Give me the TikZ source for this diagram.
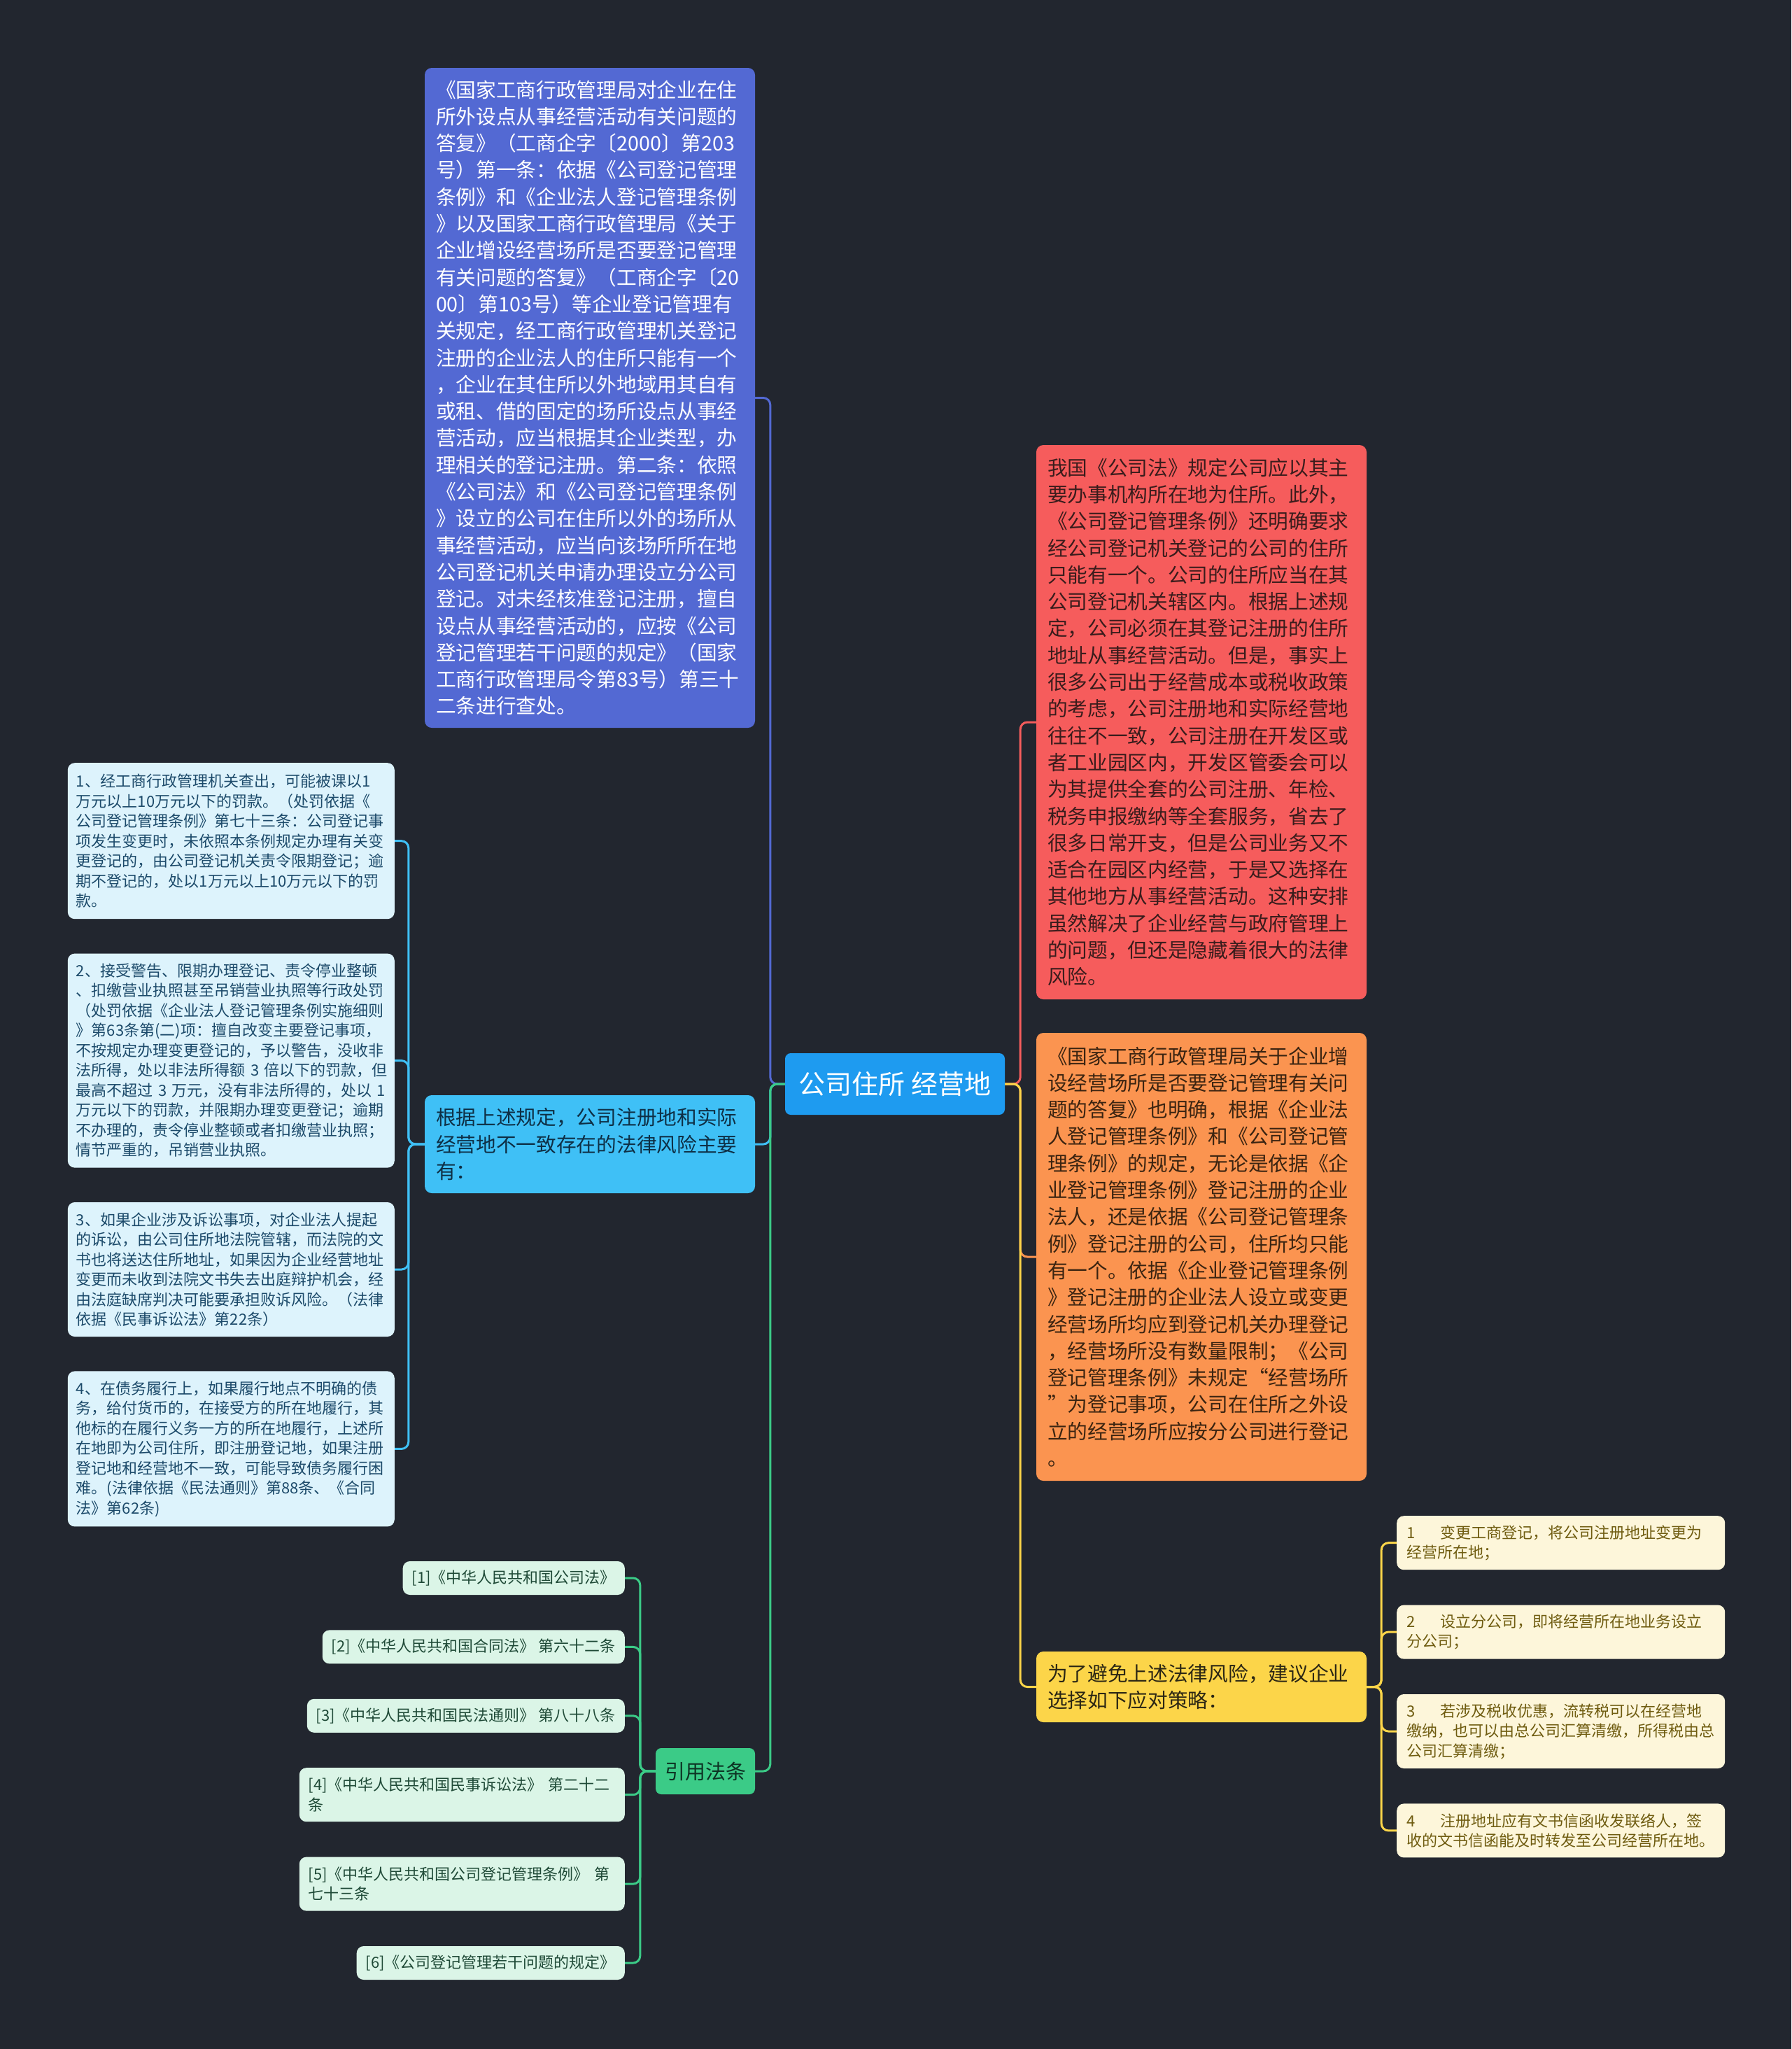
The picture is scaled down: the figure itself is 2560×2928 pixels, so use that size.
\documentclass[tikz,border=0pt]{standalone}
\usepackage{fontspec}
\setmainfont{Noto Sans CJK SC}
\usepackage{xcolor}
\usepackage{tikz}
\usetikzlibrary{positioning}

\definecolor{bgdark}{HTML}{22262F}
\definecolor{hubblue}{HTML}{1E9BF0}
\definecolor{noticeblue}{HTML}{5369D3}
\definecolor{riskcyan}{HTML}{3FC0F6}
\definecolor{riskdark}{HTML}{0E2F45}
\definecolor{citegreen}{HTML}{3BCB87}
\definecolor{citedark}{HTML}{0D3323}
\definecolor{rulered}{HTML}{F65C5C}
\definecolor{ruledark}{HTML}{3A1C1C}
\definecolor{replyorange}{HTML}{FB9450}
\definecolor{replydark}{HTML}{3B2411}
\definecolor{adviceyellow}{HTML}{FCD549}
\definecolor{advicedark}{HTML}{2B2614}
\definecolor{riskfill}{HTML}{DDF3FC}
\definecolor{risktext}{HTML}{1C4A6A}
\definecolor{lawfill}{HTML}{DBF5E7}
\definecolor{lawtext}{HTML}{1F4A37}
\definecolor{tipfill}{HTML}{FDF6DA}
\definecolor{tiptext}{HTML}{6F5C10}

\begin{document}
\begin{tikzpicture}[
  x=1pt, y=-1pt,
  topic/.style={rounded corners=10pt,align=left,text width=440pt,inner xsep=16pt,inner ysep=0pt,font=\fontsize{28.7}{38.3}\selectfont},
  leaf/.style={rounded corners=10pt,align=left,inner xsep=12pt,inner ysep=0pt,font=\fontsize{22}{28.5}\selectfont},
  risk/.style={leaf,fill=riskfill,text=risktext,text width=443pt},
  law/.style={leaf,fill=lawfill,text=lawtext,inner xsep=13pt,minimum height=48pt},
  tip/.style={leaf,fill=tipfill,text=tiptext,inner xsep=14pt,text width=441pt,minimum height=77pt},
  link/.style={line width=3pt,rounded corners=10pt}
]
\fill[bgdark] (0,0) rectangle (2560,2928);
\useasboundingbox (0,0) rectangle (2560,2928);

% centre
\node[rounded corners=8pt,fill=hubblue,text=white,font=\fontsize{38}{46}\selectfont,minimum width=314pt,minimum height=88pt,inner sep=0pt] (hub) at (1279,1549) {公司住所 经营地};

% left branches
\node[topic,fill=noticeblue,text=white,minimum height=943pt] (notice) at (843,568.5) {《国家工商行政管理局对企业在住\\所外设点从事经营活动有关问题的\\答复》（工商企字〔2000〕第203\\号）第一条：依据《公司登记管理\\条例》和《企业法人登记管理条例\\》以及国家工商行政管理局《关于\\企业增设经营场所是否要登记管理\\有关问题的答复》（工商企字〔20\\00〕第103号）等企业登记管理有\\关规定，经工商行政管理机关登记\\注册的企业法人的住所只能有一个\\，企业在其住所以外地域用其自有\\或租、借的固定的场所设点从事经\\营活动，应当根据其企业类型，办\\理相关的登记注册。第二条：依照\\《公司法》和《公司登记管理条例\\》设立的公司在住所以外的场所从\\事经营活动，应当向该场所所在地\\公司登记机关申请办理设立分公司\\登记。对未经核准登记注册，擅自\\设点从事经营活动的，应按《公司\\登记管理若干问题的规定》（国家\\工商行政管理局令第83号）第三十\\二条进行查处。};
\node[topic,fill=riskcyan,text=riskdark,minimum height=140pt] (risks) at (843,1635) {根据上述规定，公司注册地和实际\\经营地不一致存在的法律风险主要\\有：};
\node[rounded corners=8pt,fill=citegreen,text=citedark,font=\fontsize{29}{36}\selectfont,minimum width=142pt,minimum height=66pt,inner sep=0pt] (cite) at (1008,2531) {引用法条};

% right branches
\node[topic,fill=rulered,text=ruledark,minimum height=792pt] (rule) at (1717,1032) {我国《公司法》规定公司应以其主\\要办事机构所在地为住所。此外，\\《公司登记管理条例》还明确要求\\经公司登记机关登记的公司的住所\\只能有一个。公司的住所应当在其\\公司登记机关辖区内。根据上述规\\定，公司必须在其登记注册的住所\\地址从事经营活动。但是，事实上\\很多公司出于经营成本或税收政策\\的考虑，公司注册地和实际经营地\\往往不一致，公司注册在开发区或\\者工业园区内，开发区管委会可以\\为其提供全套的公司注册、年检、\\税务申报缴纳等全套服务，省去了\\很多日常开支，但是公司业务又不\\适合在园区内经营，于是又选择在\\其他地方从事经营活动。这种安排\\虽然解决了企业经营与政府管理上\\的问题，但还是隐藏着很大的法律\\风险。};
\node[topic,fill=replyorange,text=replydark,minimum height=640pt] (reply) at (1717,1796) {《国家工商行政管理局关于企业增\\设经营场所是否要登记管理有关问\\题的答复》也明确，根据《企业法\\人登记管理条例》和《公司登记管\\理条例》的规定，无论是依据《企\\业登记管理条例》登记注册的企业\\法人，还是依据《公司登记管理条\\例》登记注册的公司，住所均只能\\有一个。依据《企业登记管理条例\\》登记注册的企业法人设立或变更\\经营场所均应到登记机关办理登记\\，经营场所没有数量限制；《公司\\登记管理条例》未规定“经营场所\\”为登记事项，公司在住所之外设\\立的经营场所应按分公司进行登记\\。};
\node[topic,fill=adviceyellow,text=advicedark,minimum height=101pt] (advice) at (1717,2410.5) {为了避免上述法律风险，建议企业\\选择如下应对策略：};

% risks
\node[risk,anchor=north east,minimum height=223pt] (r1) at (564,1090) {1、经工商行政管理机关查出，可能被课以1\\万元以上10万元以下的罚款。（处罚依据《\\公司登记管理条例》第七十三条：公司登记事\\项发生变更时，未依照本条例规定办理有关变\\更登记的，由公司登记机关责令限期登记；逾\\期不登记的，处以1万元以上10万元以下的罚\\款。};
\node[risk,below=49pt of r1,minimum height=306pt] (r2) {2、接受警告、限期办理登记、责令停业整顿\\、扣缴营业执照甚至吊销营业执照等行政处罚\\（处罚依据《企业法人登记管理条例实施细则\\》第63条第(二)项：擅自改变主要登记事项，\\不按规定办理变更登记的，予以警告，没收非\\法所得，处以非法所得额~3~倍以下的罚款，但\\最高不超过~3~万元，没有非法所得的，处以~1\\万元以下的罚款，并限期办理变更登记；逾期\\不办理的，责令停业整顿或者扣缴营业执照；\\情节严重的，吊销营业执照。};
\node[risk,below=49pt of r2,minimum height=192pt] (r3) {3、如果企业涉及诉讼事项，对企业法人提起\\的诉讼，由公司住所地法院管辖，而法院的文\\书也将送达住所地址，如果因为企业经营地址\\变更而未收到法院文书失去出庭辩护机会，经\\由法庭缺席判决可能要承担败诉风险。（法律\\依据《民事诉讼法》第22条）};
\node[risk,below=49pt of r3,minimum height=222pt] (r4) {4、在债务履行上，如果履行地点不明确的债\\务，给付货币的，在接受方的所在地履行，其\\他标的在履行义务一方的所在地履行，上述所\\在地即为公司住所，即注册登记地，如果注册\\登记地和经营地不一致，可能导致债务履行困\\难。(法律依据《民法通则》第88条、《合同\\法》第62条)};

% laws
\node[law,anchor=east] (law1) at (893,2255) {[1]《中华人民共和国公司法》};
\node[law,below left=50pt and 0pt of law1.south east] (law2) {[2]《中华人民共和国合同法》~第六十二条};
\node[law,below left=50pt and 0pt of law2.south east] (law3) {[3]《中华人民共和国民法通则》~第八十八条};
\node[law,below left=50pt and 0pt of law3.south east,text width=439pt,minimum height=77pt] (law4) {[4]《中华人民共和国民事诉讼法》~第二十二\\条};
\node[law,below left=50pt and 0pt of law4.south east,text width=439pt,minimum height=77pt] (law5) {[5]《中华人民共和国公司登记管理条例》~第\\七十三条};
\node[law,below left=50pt and 0pt of law5.south east] (law6) {[6]《公司登记管理若干问题的规定》};

% tips
\node[tip,anchor=north west] (s1) at (1996,2166) {1\hspace*{1.65em}变更工商登记，将公司注册地址变更为\\经营所在地；};
\node[tip,below=50pt of s1] (s2) {2\hspace*{1.65em}设立分公司，即将经营所在地业务设立\\分公司；};
\node[tip,below=50pt of s2,minimum height=106pt] (s3) {3\hspace*{1.65em}若涉及税收优惠，流转税可以在经营地\\缴纳，也可以由总公司汇算清缴，所得税由总\\公司汇算清缴；};
\node[tip,below=50pt of s3] (s4) {4\hspace*{1.65em}注册地址应有文书信函收发联络人，签\\收的文书信函能及时转发至公司经营所在地。};

% connectors
\draw[link,noticeblue] (hub.west) -- ++(-21,0) |- (notice.east);
\draw[link,riskcyan] (hub.west) -- ++(-21,0) |- (risks.east);
\draw[link,citegreen] (hub.west) -- ++(-21,0) |- (cite.east);
\draw[link,rulered] (hub.east) -- ++(22,0) |- (rule.west);
\draw[link,replyorange] (hub.east) -- ++(22,0) |- (reply.west);
\draw[link,adviceyellow] (hub.east) -- ++(22,0) |- (advice.west);
\foreach \n in {1,...,4}
  \draw[link,riskcyan] (risks.west) -- ++(-23,0) |- (r\n.east);
\foreach \n in {1,...,6}
  \draw[link,citegreen] (cite.west) -- ++(-22,0) |- (law\n.east);
\foreach \n in {1,...,4}
  \draw[link,adviceyellow] (advice.east) -- ++(21,0) |- (s\n.west);
\end{tikzpicture}
\end{document}
